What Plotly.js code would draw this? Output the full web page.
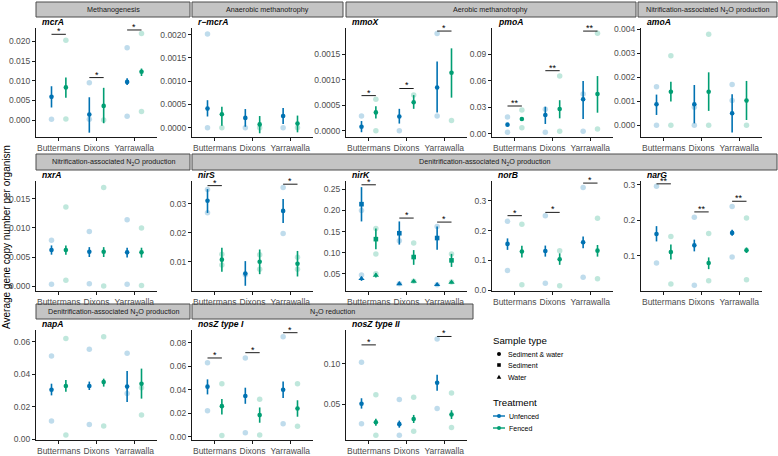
<!DOCTYPE html>
<html>
<head>
<meta charset="utf-8">
<script src="https://cdn.plot.ly/plotly-3.0.1.min.js"></script>
<style>
  html, body { margin: 0; padding: 0; background: #ffffff; }
  #chart { width: 778px; height: 456px; }
</style>
</head>
<body>
<div id="chart"></div>
<script>
// Sites along each x axis
const sites = ["Buttermans", "Dixons", "Yarrawalla"];

// Summary per site: [mean, lower, upper]; *_pts: individual observations per site
const mcrA_unfenced = [[0.0059, 0.0032, 0.0086], [0.0014, -0.0032, 0.0058], [0.0097, 0.0089, 0.0106]];
const mcrA_fenced = [[0.0083, 0.0057, 0.0108], [0.0036, -0.0008, 0.0082], [0.0123, 0.0112, 0.0131]];
const mcrA_unfenced_pts = [[0.0002], [0.0095, 0.0002], [0.0184, 0.0010]];
const mcrA_fenced_pts = [[0.0203, 0.0003], [0.0000], [0.0220, 0.0022]];
const mcrA_sig = ["*", "*", "*"];
const mcrA_sig_y = [0.0218, 0.0108, 0.0229];

const rmcrA_unfenced = [[0.00041, 0.00024, 0.00059], [0.00021, 0.00002, 0.00040], [0.00025, 0.00008, 0.00042]];
const rmcrA_fenced = [[0.00029, 0.00004, 0.00045], [0.00007, -0.00012, 0.00025], [0.00009, -0.00010, 0.00026]];
const rmcrA_unfenced_pts = [[0.00201, 0.0], [0.0], [0.0]];
const rmcrA_fenced_pts = [[0.0], [0.0], [0.0]];

const mmoX_unfenced = [[0.000079, -0.00003, 0.00019], [0.00028, 0.00014, 0.00043], [0.00085, 0.00036, 0.00136]];
const mmoX_fenced = [[0.00036, 0.00024, 0.00048], [0.00056, 0.00043, 0.00070], [0.00114, 0.00065, 0.00162]];
const mmoX_unfenced_pts = [[0.00029], [0.0], [0.00191, 0.00029]];
const mmoX_fenced_pts = [[0.00062, 0.0], [0.00070], [0.00020]];
const mmoX_sig = ["*", "*", "*"];
const mmoX_sig_y = [0.00069, 0.00083, 0.00196];

const pmoA_unfenced = [[0.0102, 0.0085, 0.0120], [0.0212, 0.0110, 0.0306], [0.0390, 0.0166, 0.0598]];
const pmoA_fenced = [[0.0166, 0.0150, 0.0180], [0.0280, 0.0174, 0.0380], [0.0450, 0.0238, 0.0654]];
const pmoA_unfenced_pts = [[0.0190, 0.0015], [0.0276, 0.0015], [0.0450, 0.0026]];
const pmoA_fenced_pts = [[0.0269, 0.0068], [0.0654, 0.0026], [0.1139, 0.0053]];
const pmoA_sig = ["**", "**", "**"];
const pmoA_sig_y = [0.0314, 0.0715, 0.1165];

const amoA_unfenced = [[0.000875, 0.00043, 0.00128], [0.000875, 0.00008, 0.00168], [0.00050, -0.00030, 0.00129]];
const amoA_fenced = [[0.00140, 0.00099, 0.00182], [0.00140, 0.00060, 0.00221], [0.00103, 0.00022, 0.00185]];
const amoA_unfenced_pts = [[0.00161, 0.0], [0.00075, 0.0], [0.00170, 0.00103]];
const amoA_fenced_pts = [[0.00290, 0.0], [0.00380, 0.0], [0.0]];

const nxrA_unfenced = [[0.0062, 0.0054, 0.0070], [0.0059, 0.0050, 0.0067], [0.0058, 0.0049, 0.0066]];
const nxrA_fenced = [[0.0062, 0.0054, 0.0070], [0.0059, 0.0050, 0.0067], [0.0058, 0.0049, 0.0066]];
const nxrA_unfenced_pts = [[0.0079, 0.0003], [0.0094, 0.0004], [0.0114, 0.0003]];
const nxrA_fenced_pts = [[0.0136, 0.0010], [0.0170, 0.0], [0.0100, 0.0001]];

const nirS_unfenced = [[0.0311, 0.0269, 0.0351], [0.0060, 0.0018, 0.0103], [0.0276, 0.0234, 0.0317]];
const nirS_fenced = [[0.0108, 0.0066, 0.0149], [0.0101, 0.0058, 0.0143], [0.0094, 0.0050, 0.0138]];
const nirS_unfenced_pts = [[0.0350, 0.0270], [0.0056], [0.0357, 0.0198]];
const nirS_fenced_pts = [[0.0127, 0.0090], [0.0125, 0.0075], [0.0116, 0.0075]];
const nirS_sig = ["*", "", "*"];
const nirS_sig_y = [0.0363, null, 0.0368];

const nirK_sediment_unfenced = [[0.215, 0.174, 0.2555], [0.146, 0.119, 0.174], [0.1346, 0.107, 0.162]];
const nirK_sediment_fenced = [[0.132, 0.108, 0.157], [0.0895, 0.071, 0.106], [0.0816, 0.066, 0.097]];
const nirK_sediment_unfenced_pts = [[0.200], [0.128], [0.162]];
const nirK_sediment_fenced_pts = [[0.097, 0.157], [0.123], [0.097]];
const nirK_water_unfenced = [[0.038, 0.033, 0.043], [0.026, 0.023, 0.029], [0.024, 0.021, 0.027]];
const nirK_water_fenced = [[0.046, 0.041, 0.051], [0.032, 0.029, 0.035], [0.0295, 0.027, 0.032]];
const nirK_water_unfenced_pts = [[0.047], [0.026], [0.024]];
const nirK_water_fenced_pts = [[0.050], [0.032], [0.030]];
const nirK_sig = ["*", "*", "*"];
const nirK_sig_y = [0.261, 0.182, 0.1725];

const norB_unfenced = [[0.1556, 0.1356, 0.174], [0.132, 0.113, 0.150], [0.161, 0.141, 0.180]];
const norB_fenced = [[0.130, 0.110, 0.149], [0.104, 0.0856, 0.124], [0.133, 0.113, 0.152]];
const norB_unfenced_pts = [[0.231, 0.0667], [0.250, 0.024], [0.344, 0.044]];
const norB_fenced_pts = [[0.221, 0.019], [0.133, 0.0156], [0.241, 0.039]];
const norB_sig = ["*", "*", "*"];
const norB_sig_y = [0.250, 0.261, 0.359];

const narG_unfenced = [[0.161, 0.140, 0.183], [0.129, 0.112, 0.145], [0.164, 0.156, 0.173]];
const narG_fenced = [[0.110, 0.089, 0.131], [0.079, 0.062, 0.095], [0.115, 0.1075, 0.123]];
const narG_unfenced_pts = [[0.295, 0.079], [0.208, 0.0164], [0.238, 0.096]];
const narG_fenced_pts = [[0.154, 0.020], [0.162, 0.0296], [0.206, 0.032]];
const narG_sig = ["**", "**", "**"];
const narG_sig_y = [0.302, 0.223, 0.253];

const napA_unfenced = [[0.0304, 0.0269, 0.0341], [0.0327, 0.0302, 0.0354], [0.0323, 0.0228, 0.0420]];
const napA_fenced = [[0.0327, 0.0292, 0.0364], [0.0351, 0.0323, 0.0372], [0.0341, 0.0249, 0.0434]];
const napA_unfenced_pts = [[0.0512, 0.0111], [0.0553, 0.0090], [0.0528, 0.0280]];
const napA_fenced_pts = [[0.0620, 0.0025], [0.0631, 0.0080], [0.0148, 0.0316]];

const nosZI_unfenced = [[0.0426, 0.0360, 0.0488], [0.0346, 0.0280, 0.0417], [0.0400, 0.0330, 0.0470]];
const nosZI_fenced = [[0.0260, 0.0190, 0.0320], [0.0184, 0.0119, 0.0249], [0.0240, 0.0170, 0.0310]];
const nosZI_unfenced_pts = [[0.0630, 0.0220], [0.0670, 0.0034], [0.0850, 0.0110]];
const nosZI_fenced_pts = [[0.0450, 0.0010], [0.0318, 0.0015], [0.0450, 0.0090]];
const nosZI_sig = ["*", "*", "*"];
const nosZI_sig_y = [0.0670, 0.0715, 0.0885];

const nosZII_unfenced = [[0.0508, 0.0448, 0.0576], [0.0256, 0.0212, 0.0300], [0.0768, 0.0668, 0.0868]];
const nosZII_fenced = [[0.0280, 0.0236, 0.0324], [0.0320, 0.0270, 0.0370], [0.0376, 0.0320, 0.0428]];
const nosZII_unfenced_pts = [[0.102, 0.026], [0.056, 0.012], [0.131, 0.045]];
const nosZII_fenced_pts = [[0.062, 0.012], [0.0588, 0.0168], [0.064, 0.0216]];
const nosZII_sig = ["*", "", "*"];
const nosZII_sig_y = [0.1236, null, 0.134];

// ---- drawing ----
const W = 778, H = 456;
const px = v => v / W;
const py = v => 1 - v / H;
const FONT = "Liberation Sans, Arial, Helvetica, sans-serif";
const BLUE = "#0072B2", GREEN = "#009E73";
const BLUE_L = "rgba(0,114,178,0.25)", GREEN_L = "rgba(0,158,115,0.25)";
const AXIS = "#1a1a1a", TICKTXT = "#4d4d4d";
const DODGE = 0.19;

const rows = [
  { top: 28, bottom: 137, gene: 22 },
  { top: 181, bottom: 291, gene: 175 },
  { top: 330, bottom: 440, gene: 324 }
];
const cols = [36, 192, 346, 492, 641];
const PW = 121;

const circ = "circle";
const panels = [
  { gene: "mcrA", r: 0, c: 0, range: [-0.0043, 0.0234], ticks: [0, 0.005, 0.01, 0.015, 0.02], fmt: ".3f",
    series: [{ U: mcrA_unfenced, F: mcrA_fenced, Up: mcrA_unfenced_pts, Fp: mcrA_fenced_pts, sym: circ }], sig: mcrA_sig, sigY: mcrA_sig_y },
  { gene: "r\u2212mcrA", r: 0, c: 1, range: [-0.0002, 0.00214], ticks: [0, 0.0005, 0.001, 0.0015, 0.002], fmt: ".4f",
    series: [{ U: rmcrA_unfenced, F: rmcrA_fenced, Up: rmcrA_unfenced_pts, Fp: rmcrA_fenced_pts, sym: circ }] },
  { gene: "mmoX", r: 0, c: 2, range: [-0.000124, 0.00202], ticks: [0, 0.0005, 0.001, 0.0015], fmt: ".4f",
    series: [{ U: mmoX_unfenced, F: mmoX_fenced, Up: mmoX_unfenced_pts, Fp: mmoX_fenced_pts, sym: circ }], sig: mmoX_sig, sigY: mmoX_sig_y },
  { gene: "pmoA", r: 0, c: 3, range: [-0.0038, 0.12], ticks: [0, 0.03, 0.06, 0.09], fmt: ".2f",
    series: [{ U: pmoA_unfenced, F: pmoA_fenced, Up: pmoA_unfenced_pts, Fp: pmoA_fenced_pts, sym: circ }], sig: pmoA_sig, sigY: pmoA_sig_y },
  { gene: "amoA", r: 0, c: 4, range: [-0.00049, 0.00406], ticks: [0, 0.001, 0.002, 0.003, 0.004], fmt: ".3f",
    series: [{ U: amoA_unfenced, F: amoA_fenced, Up: amoA_unfenced_pts, Fp: amoA_fenced_pts, sym: circ }] },
  { gene: "nxrA", r: 1, c: 0, range: [-0.00086, 0.0181], ticks: [0, 0.005, 0.01, 0.015], fmt: ".3f",
    series: [{ U: nxrA_unfenced, F: nxrA_fenced, Up: nxrA_unfenced_pts, Fp: nxrA_fenced_pts, sym: circ }] },
  { gene: "nirS", r: 1, c: 1, range: [0.0, 0.0379], ticks: [0.01, 0.02, 0.03], fmt: ".2f",
    series: [{ U: nirS_unfenced, F: nirS_fenced, Up: nirS_unfenced_pts, Fp: nirS_fenced_pts, sym: circ }], sig: nirS_sig, sigY: nirS_sig_y },
  { gene: "nirK", r: 1, c: 2, range: [0.0089, 0.27], ticks: [0.05, 0.1, 0.15, 0.2, 0.25], fmt: ".2f",
    series: [
      { U: nirK_sediment_unfenced, F: nirK_sediment_fenced, Up: nirK_sediment_unfenced_pts, Fp: nirK_sediment_fenced_pts, sym: "square" },
      { U: nirK_water_unfenced, F: nirK_water_fenced, Up: nirK_water_unfenced_pts, Fp: nirK_water_fenced_pts, sym: "triangle-up" }
    ], sig: nirK_sig, sigY: nirK_sig_y },
  { gene: "norB", r: 1, c: 3, range: [-0.002, 0.366], ticks: [0, 0.1, 0.2, 0.3], fmt: ".1f",
    series: [{ U: norB_unfenced, F: norB_fenced, Up: norB_unfenced_pts, Fp: norB_fenced_pts, sym: circ }], sig: norB_sig, sigY: norB_sig_y },
  { gene: "narG", r: 1, c: 4, range: [0.0005, 0.31], ticks: [0.1, 0.2, 0.3], fmt: ".1f",
    series: [{ U: narG_unfenced, F: narG_fenced, Up: narG_unfenced_pts, Fp: narG_fenced_pts, sym: circ }], sig: narG_sig, sigY: narG_sig_y },
  { gene: "napA", r: 2, c: 0, range: [-0.0006, 0.0672], ticks: [0, 0.02, 0.04, 0.06], fmt: ".2f",
    series: [{ U: napA_unfenced, F: napA_fenced, Up: napA_unfenced_pts, Fp: napA_fenced_pts, sym: circ }] },
  { gene: "nosZ type I", r: 2, c: 1, range: [-0.0028, 0.0908], ticks: [0, 0.02, 0.04, 0.06, 0.08], fmt: ".2f",
    series: [{ U: nosZI_unfenced, F: nosZI_fenced, Up: nosZI_unfenced_pts, Fp: nosZI_fenced_pts, sym: circ }], sig: nosZI_sig, sigY: nosZI_sig_y },
  { gene: "nosZ type II", r: 2, c: 2, range: [0.006, 0.142], ticks: [0.05, 0.1], fmt: ".2f",
    series: [{ U: nosZII_unfenced, F: nosZII_fenced, Up: nosZII_unfenced_pts, Fp: nosZII_fenced_pts, sym: circ }], sig: nosZII_sig, sigY: nosZII_sig_y }
];

// Process-group strips: [row, left px, right px, label]
const strips = [
  [0, 36, 190, "Methanogenesis"],
  [0, 192, 343, "Anaerobic methanotrophy"],
  [0, 346, 636, "Aerobic methanotrophy"],
  [0, 638, 777, "Nitrification-associated N<sub>2</sub>O production"],
  [1, 36, 190, "Nitrification-associated N<sub>2</sub>O production"],
  [1, 192, 777, "Denitrification-associated N<sub>2</sub>O production"],
  [2, 36, 190, "Denitrification-associated N<sub>2</sub>O production"],
  [2, 192, 473, "N<sub>2</sub>O reduction"]
];
const stripY = [[2, 17], [154, 170], [304, 319]];

const traces = [];
const shapes = [];
const annotations = [];
const layout = {
  width: W, height: H,
  margin: { l: 0, r: 0, t: 0, b: 0 },
  paper_bgcolor: "#ffffff", plot_bgcolor: "#ffffff",
  showlegend: false,
  font: { family: FONT, color: AXIS },
  shapes: shapes, annotations: annotations
};

const axisStyle = {
  showline: true, linecolor: AXIS, linewidth: 1,
  ticks: "outside", ticklen: 3, tickwidth: 1, tickcolor: AXIS,
  tickfont: { family: FONT, size: 8.5, color: TICKTXT },
  showgrid: false, zeroline: false, fixedrange: true
};

panels.forEach((p, k) => {
  const n = k + 1;
  const sfx = n === 1 ? "" : String(n);
  const xa = "x" + sfx, ya = "y" + sfx;
  const L = cols[p.c], row = rows[p.r];

  layout["xaxis" + sfx] = Object.assign({}, axisStyle, {
    domain: [px(L), px(L + PW)], anchor: ya,
    range: [0.4, 3.6], tickvals: [1, 2, 3], ticktext: sites
  });
  layout["yaxis" + sfx] = Object.assign({}, axisStyle, {
    domain: [py(row.bottom), py(row.top)], anchor: xa,
    range: p.range, tickvals: p.ticks, tickformat: p.fmt
  });

  // individual observations (faint)
  p.series.forEach(s => {
    [[s.Up, -DODGE, BLUE_L], [s.Fp, DODGE, GREEN_L]].forEach(([pts, d, col]) => {
      const xs = [], ys = [];
      pts.forEach((arr, i) => arr.forEach(v => { xs.push(i + 1 + d); ys.push(v); }));
      traces.push({
        type: "scatter", mode: "markers", x: xs, y: ys, xaxis: xa, yaxis: ya,
        marker: { color: col, size: 5.5, symbol: "circle" }, hoverinfo: "skip"
      });
    });
  });

  // means with error ranges
  p.series.forEach(s => {
    [[s.U, -DODGE, BLUE], [s.F, DODGE, GREEN]].forEach(([stats, d, col]) => {
      traces.push({
        type: "scatter", mode: "markers",
        x: stats.map((_, i) => i + 1 + d),
        y: stats.map(v => v[0]),
        xaxis: xa, yaxis: ya,
        marker: { color: col, size: s.sym === "triangle-up" ? 5.5 : 4.6, symbol: s.sym },
        error_y: {
          type: "data", symmetric: false,
          array: stats.map(v => v[2] - v[0]),
          arrayminus: stats.map(v => v[0] - v[1]),
          color: col, thickness: 1.6, width: 0
        },
        hoverinfo: "skip"
      });
    });
  });

  // significance brackets
  if (p.sig) {
    const sx = [], sy = [];
    p.sig.forEach((lab, i) => {
      if (!lab) return;
      sx.push(i + 1 - DODGE, i + 1 + DODGE, null);
      sy.push(p.sigY[i], p.sigY[i], null);
      annotations.push({
        xref: xa, yref: ya, x: i + 1, y: p.sigY[i], text: lab,
        showarrow: false, xanchor: "center", yanchor: "bottom", yshift: -4,
        font: { family: FONT, size: 9, color: "#000000" }
      });
    });
    traces.push({
      type: "scatter", mode: "lines", x: sx, y: sy, xaxis: xa, yaxis: ya,
      line: { color: "#000000", width: 0.9 }, hoverinfo: "skip"
    });
  }

  // gene name above the panel
  annotations.push({
    xref: "paper", yref: "paper", x: px(L + 4), y: py(row.gene),
    text: "<b><i>" + p.gene + "</i></b>", showarrow: false,
    xanchor: "left", yanchor: "middle",
    font: { family: FONT, size: 8.6, color: "#000000" }
  });
});

// strips
strips.forEach(([r, x0, x1, label]) => {
  const [y0, y1] = stripY[r];
  shapes.push({
    type: "rect", xref: "paper", yref: "paper",
    x0: px(x0), x1: px(x1), y0: py(y1), y1: py(y0),
    fillcolor: "#c4c4c4", line: { color: "#4d4d4d", width: 1 }, layer: "below"
  });
  annotations.push({
    xref: "paper", yref: "paper", x: px((x0 + x1) / 2), y: py((y0 + y1) / 2),
    text: label, showarrow: false, xanchor: "center", yanchor: "middle",
    font: { family: FONT, size: 7.2, color: "#1a1a1a" }
  });
});

// shared y-axis title
annotations.push({
  xref: "paper", yref: "paper", x: px(6), y: py(237), textangle: -90,
  text: "Average gene copy number per organism", showarrow: false,
  xanchor: "center", yanchor: "middle",
  font: { family: FONT, size: 10, color: "#000000" }
});

// legend: sample type
const LX = 491, SX = 499, TX = 506;
annotations.push({ xref: "paper", yref: "paper", x: px(LX), y: py(340), text: "Sample type",
  showarrow: false, xanchor: "left", yanchor: "middle", font: { family: FONT, size: 9.7, color: "#000000" } });
const sampleItems = [["Sediment & water", 354, "circle"], ["Sediment", 365, "square"], ["Water", 377, "triangle"]];
sampleItems.forEach(([lab, y, kind]) => {
  const base = { xref: "paper", yref: "paper", xsizemode: "pixel", ysizemode: "pixel",
    xanchor: px(SX), yanchor: py(y), fillcolor: "#000000", line: { width: 0 } };
  if (kind === "circle") shapes.push(Object.assign({ type: "circle", x0: -2, x1: 2, y0: -2, y1: 2 }, base));
  else if (kind === "square") shapes.push(Object.assign({ type: "rect", x0: -1.8, x1: 1.8, y0: -1.8, y1: 1.8 }, base));
  else shapes.push(Object.assign({ type: "path", path: "M -2.3 -1.8 L 2.3 -1.8 L 0 2.2 Z" }, base));
  annotations.push({ xref: "paper", yref: "paper", x: px(TX), y: py(y), text: lab, showarrow: false,
    xanchor: "left", yanchor: "middle", font: { family: FONT, size: 7, color: "#000000" } });
});

// legend: treatment
annotations.push({ xref: "paper", yref: "paper", x: px(LX), y: py(402), text: "Treatment",
  showarrow: false, xanchor: "left", yanchor: "middle", font: { family: FONT, size: 9.7, color: "#000000" } });
[["Unfenced", 416, BLUE], ["Fenced", 428, GREEN]].forEach(([lab, y, col]) => {
  shapes.push({ type: "line", xref: "paper", yref: "paper", x0: px(493), x1: px(505), y0: py(y), y1: py(y),
    line: { color: col, width: 1.4 } });
  shapes.push({ type: "circle", xref: "paper", yref: "paper", xsizemode: "pixel", ysizemode: "pixel",
    xanchor: px(SX), yanchor: py(y), x0: -2, x1: 2, y0: -2, y1: 2, fillcolor: col, line: { width: 0 } });
  annotations.push({ xref: "paper", yref: "paper", x: px(TX + 1), y: py(y), text: lab, showarrow: false,
    xanchor: "left", yanchor: "middle", font: { family: FONT, size: 7, color: "#000000" } });
});

Plotly.newPlot("chart", traces, layout, { staticPlot: true, displayModeBar: false });
</script>
</body>
</html>
